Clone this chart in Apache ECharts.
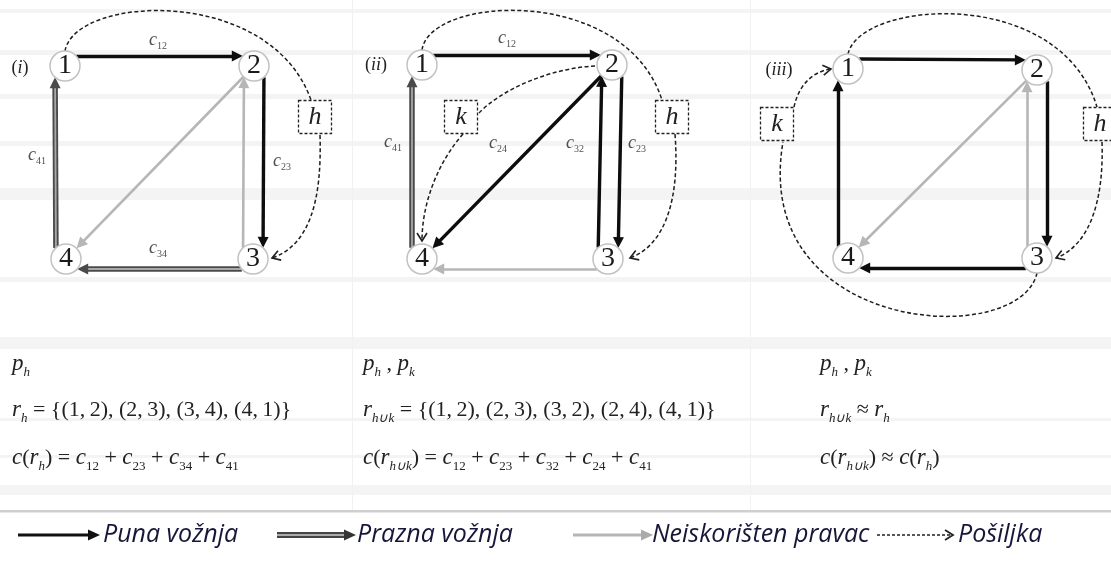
<!DOCTYPE html>
<html>
<head>
<meta charset="utf-8">
<script src="https://cdn.jsdelivr.net/npm/echarts@6/dist/echarts.min.js"></script>
<style>
  html, body { margin: 0; padding: 0; background: #fff; }
  #main { width: 1111px; height: 567px; }
</style>
</head>
<body>
<div id="main"></div>
<script type="text/javascript">
    // čvorovi 1..4 za slučajeve (i), (ii), (iii)
    var nodesI = [[65, 66], [254, 66], [253, 259], [66, 259]];
    var nodesII = [[422, 65], [612, 65], [608, 259], [422, 259]];
    var nodesIII = [[848, 69], [1037, 70], [1037, 258], [848, 258]];

    // grane: [od, do, vrsta]
    var edgesI = [[1, 2, 'full'], [2, 3, 'full'], [3, 4, 'empty'], [4, 1, 'empty'], [3, 2, 'unused'], [2, 4, 'unused']];
    var edgesII = [[1, 2, 'full'], [2, 3, 'full'], [3, 2, 'full'], [2, 4, 'full'], [3, 4, 'unused'], [4, 1, 'empty']];
    var edgesIII = [[1, 2, 'full'], [2, 3, 'full'], [3, 4, 'full'], [4, 1, 'full'], [3, 2, 'unused'], [2, 4, 'unused']];

    // oznake cijena: [x, y, indeks]
    var costLabels = [[158, 40, '12'], [282, 161, '23'], [37, 155, '41'], [158, 248, '34'],
                      [507, 38, '12'], [393, 142, '41'], [498, 143, '24'], [575, 143, '32'], [637, 143, '23']];

    // pošiljke: [x, y, ime]
    var boxes = [[315, 117, 'h'], [461, 117, 'k'], [672, 117, 'h'], [777, 124, 'k'], [1100, 124, 'h']];

    // putanje pošiljki: početak, 2 kontrolne točke, kraj, strelica (1/0)
    var shipPaths = [
        [65, 51, 75, -5, 270, -15, 311, 100, 0],
        [320, 135, 322, 200, 310, 245, 272, 258, 1],
        [422, 50, 430, -5, 625, -15, 662, 100, 0],
        [675, 134, 680, 200, 665, 245, 630, 258, 1],
        [595, 66, 550, 68, 500, 90, 478, 114, 0],
        [463, 134, 440, 160, 422, 200, 422, 241, 1],
        [848, 54, 860, 0, 1060, -15, 1097, 107, 0],
        [1102, 142, 1104, 200, 1090, 245, 1056, 258, 1],
        [1037, 273, 1020, 350, 750, 335, 783, 142, 0],
        [794, 107, 798, 88, 810, 72, 831, 69, 1]
    ];

    var panelNames = ['(i)', '(ii)', '(iii)'];
    var panelLabelPos = [[20, 68], [376, 65], [779, 70]];

    // formule ispod grafova (redak x stupac)
    var formulaCols = [12, 363, 820];
    var formulaRows = [364, 410, 458];
    var T = '\u2009';
    var formulas = [
        ['{i|p}{s|h}', '{i|p}{s|h}{n| , }{i|p}{s|k}', '{i|p}{s|h}{n| , }{i|p}{s|k}'],
        ['{i|r}{s|h}' + ' = {(1,' + T + '2), (2,' + T + '3), (3,' + T + '4), (4,' + T + '1)}',
         '{i|r}{s|h∪k}' + ' = {(1,' + T + '2), (2,' + T + '3), (3,' + T + '2), (2,' + T + '4), (4,' + T + '1)}',
         '{i|r}{s|h∪k}{n| ≈ }{i|r}{s|h}'],
        ['{i|c}{n|(}{i|r}{s|h}{n|) = }{i|c}{d|12}{n| + }{i|c}{d|23}{n| + }{i|c}{d|34}{n| + }{i|c}{d|41}',
         '{i|c}{n|(}{i|r}{s|h∪k}{n|) = }{i|c}{d|12}{n| + }{i|c}{d|23}{n| + }{i|c}{d|32}{n| + }{i|c}{d|24}{n| + }{i|c}{d|41}',
         '{i|c}{n|(}{i|r}{s|h∪k}{n|) ≈ }{i|c}{n|(}{i|r}{s|h}{n|)}']
    ];

    var legendNames = ['Puna vožnja', 'Prazna vožnja', 'Neiskorišten pravac', 'Pošiljka'];

    var R = 15, ARROW = 11, OFF = 10;
    var SERIF = 'Liberation Serif';

    function edgeCoords(nodes, e, shrinkEnd) {
        var a = nodes[e[0] - 1], b = nodes[e[1] - 1];
        var dx = b[0] - a[0], dy = b[1] - a[1];
        var len = Math.sqrt(dx * dx + dy * dy);
        var ux = dx / len, uy = dy / len;
        var diag = Math.abs(ux) > 0.3 && Math.abs(uy) > 0.3;
        var off = diag ? 0 : OFF;
        var nx = uy * off, ny = -ux * off;
        var inset = Math.sqrt(R * R - off * off);
        var endInset = inset + ARROW / 2 + (shrinkEnd || 0);
        return [[a[0] + nx + ux * inset, a[1] + ny + uy * inset],
                [b[0] + nx - ux * endInset, b[1] + ny - uy * endInset]];
    }

    var panels = [[nodesI, edgesI], [nodesII, edgesII], [nodesIII, edgesIII]];
    function edgesOf(type, shrink) {
        var out = [];
        panels.forEach(function (p) {
            p[1].forEach(function (e) {
                if (e[2] === type) out.push({ coords: edgeCoords(p[0], e, shrink) });
            });
        });
        return out;
    }

    var nodeData = [];
    panels.forEach(function (p) {
        p[0].forEach(function (n, i) { nodeData.push([n[0], n[1], String(i + 1)]); });
    });

    var mathRich = {
        i: { fontFamily: SERIF, fontStyle: 'italic', fontSize: 23, lineHeight: 30 },
        n: { fontFamily: SERIF, fontSize: 22, lineHeight: 30 },
        s: { fontFamily: SERIF, fontStyle: 'italic', fontSize: 13, lineHeight: 12, verticalAlign: 'bottom' },
        d: { fontFamily: SERIF, fontSize: 13, lineHeight: 12, verticalAlign: 'bottom' }
    };

    // pozadinske pruge (tablica)
    var graphics = [];
    [[9, 4], [50, 5], [94, 5], [141, 5], [188, 12], [277, 5], [337, 12], [418, 3], [455, 3], [485, 10]].forEach(function (b) {
        graphics.push({ type: 'rect', z: -10, shape: { x: 0, y: b[0], width: 1111, height: b[1] }, style: { fill: '#f4f4f4' } });
    });
    graphics.push({ type: 'rect', z: -10, shape: { x: 352, y: 0, width: 1, height: 510 }, style: { fill: '#f1f1f1' } });
    graphics.push({ type: 'rect', z: -10, shape: { x: 750, y: 0, width: 1, height: 510 }, style: { fill: '#f1f1f1' } });
    graphics.push({ type: 'rect', z: -10, shape: { x: 0, y: 510, width: 1111, height: 2.5 }, style: { fill: '#cfcfcf' } });

    panelNames.forEach(function (t, i) {
        var inner = t.slice(1, -1);
        graphics.push({
            type: 'text', z: 20,
            style: {
                text: '{n|(}{i|' + inner + '}{n|)}', x: panelLabelPos[i][0], y: panelLabelPos[i][1],
                align: 'center', verticalAlign: 'middle', fill: '#222',
                rich: { n: { fontFamily: SERIF, fontSize: 18 }, i: { fontFamily: SERIF, fontStyle: 'italic', fontSize: 18 } }
            }
        });
    });

    formulas.forEach(function (row, r) {
        row.forEach(function (txt, c) {
            graphics.push({
                type: 'text', z: 20,
                style: {
                    text: txt, x: formulaCols[c], y: formulaRows[r],
                    fontFamily: SERIF, fontSize: 22, lineHeight: 30,
                    verticalAlign: 'middle', fill: '#222', rich: mathRich
                }
            });
        });
    });

    // legenda
    var LY = 535;
    function tri(tip, color) {
        return { type: 'polygon', z: 20, shape: { points: [[tip, LY], [tip - 12, LY - 5.5], [tip - 12, LY + 5.5]] }, style: { fill: color } };
    }
    graphics.push({ type: 'line', z: 20, shape: { x1: 18, y1: LY, x2: 90, y2: LY }, style: { stroke: '#111', lineWidth: 3 } });
    graphics.push(tri(100, '#111'));
    graphics.push({ type: 'line', z: 20, shape: { x1: 277, y1: LY, x2: 346, y2: LY }, style: { stroke: '#444', lineWidth: 6 } });
    graphics.push({ type: 'line', z: 21, shape: { x1: 277, y1: LY, x2: 344, y2: LY }, style: { stroke: '#aaa', lineWidth: 2 } });
    graphics.push(tri(356, '#333'));
    graphics.push({ type: 'line', z: 20, shape: { x1: 573, y1: LY, x2: 643, y2: LY }, style: { stroke: '#b5b5b5', lineWidth: 3 } });
    graphics.push(tri(653, '#aaa'));
    graphics.push({ type: 'line', z: 22, shape: { x1: 877, y1: LY, x2: 952, y2: LY }, style: { stroke: '#222', lineWidth: 1.5, lineDash: [3, 2] } });
    graphics.push({ type: 'polyline', z: 22, shape: { points: [[945, LY - 5], [953, LY], [945, LY + 5]] }, style: { stroke: '#222', lineWidth: 1.8, fill: null } });
    [103, 357, 652, 958].forEach(function (x, i) {
        graphics.push({
            type: 'text', z: 21,
            style: { text: legendNames[i], x: x, y: LY, fontFamily: 'Open Sans', fontStyle: 'italic', fontSize: 25, fill: '#16163a', verticalAlign: 'middle' }
        });
    });

    var myChart = echarts.init(document.getElementById('main'));

    var option = {
        animation: false,
        backgroundColor: '#fff',
        grid: { left: 0, right: 0, top: 0, bottom: 0 },
        xAxis: { type: 'value', min: 0, max: 1111, show: false },
        yAxis: { type: 'value', min: 0, max: 567, inverse: true, show: false },
        graphic: graphics,
        series: [
            {
                name: 'ship',
                type: 'custom',
                coordinateSystem: 'cartesian2d',
                clip: false,
                silent: true,
                z: 3,
                data: shipPaths,
                renderItem: function (params, api) {
                    var p = [0, 1, 2, 3].map(function (k) {
                        return api.coord([api.value(2 * k), api.value(2 * k + 1)]);
                    });
                    var children = [{
                        type: 'bezierCurve',
                        shape: { x1: p[0][0], y1: p[0][1], cpx1: p[1][0], cpy1: p[1][1], cpx2: p[2][0], cpy2: p[2][1], x2: p[3][0], y2: p[3][1] },
                        style: { stroke: '#1e1e1e', lineWidth: 1.5, lineDash: [4, 2.5], fill: null }
                    }];
                    if (api.value(8)) {
                        var dx = p[3][0] - p[2][0], dy = p[3][1] - p[2][1];
                        var l = Math.sqrt(dx * dx + dy * dy);
                        dx /= l; dy /= l;
                        children.push({
                            type: 'polyline',
                            shape: { points: [
                                [p[3][0] - dx * 8 + dy * 5, p[3][1] - dy * 8 - dx * 5],
                                [p[3][0], p[3][1]],
                                [p[3][0] - dx * 8 - dy * 5, p[3][1] - dy * 8 + dx * 5]
                            ] },
                            style: { stroke: '#1e1e1e', lineWidth: 1.6, fill: null }
                        });
                    }
                    return { type: 'group', children: children };
                }
            },
            {
                name: 'unused',
                type: 'lines',
                coordinateSystem: 'cartesian2d',
                silent: true,
                z: 4,
                symbol: ['none', 'triangle'],
                symbolSize: ARROW,
                lineStyle: { color: '#b6b6b6', width: 2.6, opacity: 1 },
                data: edgesOf('unused')
            },
            {
                name: 'emptyOuter',
                type: 'lines',
                coordinateSystem: 'cartesian2d',
                silent: true,
                z: 4,
                symbol: ['none', 'triangle'],
                symbolSize: ARROW,
                lineStyle: { color: '#4a4a4a', width: 5.5, opacity: 1 },
                data: edgesOf('empty')
            },
            {
                name: 'emptyInner',
                type: 'lines',
                coordinateSystem: 'cartesian2d',
                silent: true,
                z: 5,
                symbol: 'none',
                lineStyle: { color: '#a8a8a8', width: 1.8, opacity: 1 },
                data: edgesOf('empty', ARROW / 2)
            },
            {
                name: 'full',
                type: 'lines',
                coordinateSystem: 'cartesian2d',
                silent: true,
                z: 5,
                symbol: ['none', 'triangle'],
                symbolSize: ARROW,
                lineStyle: { color: '#0d0d0d', width: 3.4, opacity: 1 },
                data: edgesOf('full')
            },
            {
                name: 'nodes',
                type: 'scatter',
                silent: true,
                z: 6,
                symbol: 'circle',
                symbolSize: 2 * R,
                itemStyle: { color: '#fff', borderColor: '#c2c2c2', borderWidth: 1.5, opacity: 1 },
                label: {
                    show: true, position: 'inside', fontFamily: SERIF, fontSize: 28, color: '#1a1a1a',
                    formatter: function (p) { return p.value[2]; }
                },
                data: nodeData
            },
            {
                name: 'boxes',
                type: 'scatter',
                silent: true,
                z: 6,
                symbol: 'rect',
                symbolSize: [33, 33],
                itemStyle: { color: '#fff', borderColor: '#222', borderWidth: 1.3, borderType: [3, 2], opacity: 1 },
                label: {
                    show: true, position: 'inside', fontFamily: SERIF, fontStyle: 'italic', fontSize: 26, color: '#222',
                    formatter: function (p) { return p.value[2]; }
                },
                data: boxes
            },
            {
                name: 'costs',
                type: 'scatter',
                silent: true,
                z: 7,
                symbolSize: 0,
                label: {
                    show: true, position: 'inside', color: '#222',
                    formatter: function (p) { return '{c|c}{s|' + p.value[2] + '}'; },
                    rich: {
                        c: { fontFamily: SERIF, fontStyle: 'italic', fontSize: 18, lineHeight: 22 },
                        s: { fontFamily: SERIF, fontSize: 10, lineHeight: 10, verticalAlign: 'bottom' }
                    }
                },
                data: costLabels
            }
        ]
    };

    myChart.setOption(option);
</script>
</body>
</html>
